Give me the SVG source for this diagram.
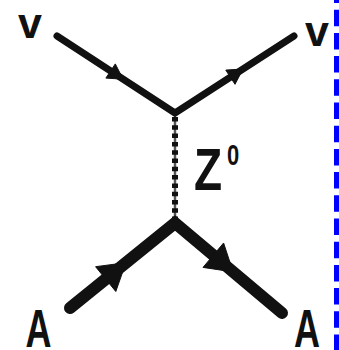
<svg xmlns="http://www.w3.org/2000/svg" width="339" height="350" viewBox="0 0 339 350">
  <style>
    .lbl { font-family: "Liberation Sans", Arial, sans-serif; font-weight: bold; fill: #111; }
    .fermion { fill: none; stroke: #111; stroke-linejoin: miter; }
    .arrow { fill: #111; stroke: #111; stroke-width: 1; stroke-linejoin: round; }
  </style>
  <rect width="339" height="350" fill="#ffffff"/>
  <g id="connectors">
    <polyline class="fermion" points="57,36 175,113 294,36" stroke-width="7" stroke-linecap="round"/>
    <polygon class="arrow" points="105.9,78.1 123.1,79.2 115.3,63.9"/>
    <polygon class="arrow" points="235.0,84.3 243.0,69.0 225.8,70.1"/>
    <line x1="175" y1="117" x2="175" y2="221" stroke="#555" stroke-width="2.5"/>
    <line x1="175" y1="117" x2="175" y2="221" stroke="#111" stroke-width="6" stroke-dasharray="4.5 3.8"/>
    <polyline class="fermion" points="70,308 175,223 282,313" stroke-width="12" stroke-linecap="round"/>
    <polygon class="arrow" points="115.8,291.5 125.9,262.7 95.6,266.7"/>
    <polygon class="arrow" points="203.0,267.4 233.1,271.9 223.6,243.0"/>
  </g>
  <g id="nu-in"><text class="lbl" x="30" y="38" font-size="43" text-anchor="middle">v</text></g>
  <g id="nu-out"><text class="lbl" x="317" y="46" font-size="43" text-anchor="middle">v</text></g>
  <g id="z0">
    <text class="lbl" font-size="46" transform="translate(194,190) scale(1,1.3)">Z</text>
    <text class="lbl" font-size="22" transform="translate(227,165) scale(1,1.33)">0</text>
  </g>
  <g id="a-in"><text class="lbl" font-size="36" text-anchor="middle" transform="translate(38.5,347) scale(1,1.5)">A</text></g>
  <g id="a-out"><text class="lbl" font-size="36" text-anchor="middle" transform="translate(307,347) scale(1,1.5)">A</text></g>
  <line id="frame-edge" x1="336.5" y1="-13.5" x2="336.5" y2="350" stroke="#0000ff" stroke-width="5" stroke-dasharray="16.5 6.7"/>
</svg>
